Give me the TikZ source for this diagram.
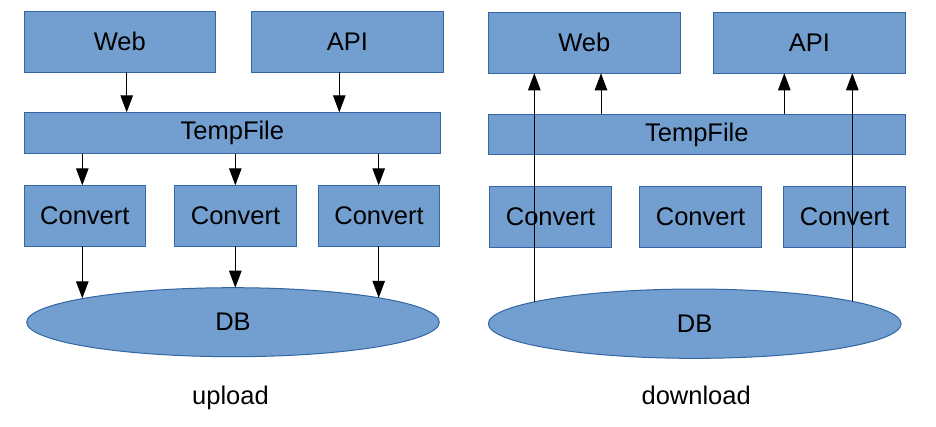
\documentclass[tikz,border=0pt]{standalone}
\usepackage{fontspec}
\setmainfont{Liberation Sans}
\usetikzlibrary{arrows.meta,shapes.geometric}
\definecolor{boxfill}{HTML}{729FCF}
\definecolor{boxline}{HTML}{3465A4}
\tikzset{
  box/.style={draw=boxline, fill=boxfill, line width=1pt, rectangle, inner sep=0pt, outer sep=0pt,
    font=\fontsize{25.5}{30}\selectfont},
  dbshape/.style={draw=boxline, fill=boxfill, line width=1pt, ellipse, inner sep=0pt, outer sep=0pt,
    font=\fontsize{25.5}{30}\selectfont},
  caption/.style={inner sep=0pt, anchor=base, font=\fontsize{25.5}{30}\selectfont},
  arr/.style={-{Triangle[length=17pt,width=12.5pt]}, line width=1pt, black}
}
\begin{document}
\begin{tikzpicture}[x=1pt,y=-1pt]
\useasboundingbox (0,0) rectangle (936,427);
% ---------- upload ----------
\node[box, minimum width=191.7pt, minimum height=61pt] (web1) at (119.85,41.8) {Web};
\node[box, minimum width=192.4pt, minimum height=61pt] (api1) at (347.5,41.8) {API};
\node[box, minimum width=416.7pt, minimum height=41.4pt] (temp1) at (232.35,133) {TempFile};
\node[box, minimum width=121.7pt, minimum height=61pt] (c11) at (84.85,215.8) {Convert};
\node[box, minimum width=122.4pt, minimum height=61pt] (c12) at (235.5,215.8) {Convert};
\node[box, minimum width=121.4pt, minimum height=61pt] (c13) at (379,215.8) {Convert};
\node[dbshape, minimum width=412.6pt, minimum height=69pt] (db1) at (233,322.2) {DB};
\node[caption] (up) at (230.5,404) {upload};
\coordinate (xa) at (126.7,0);
\coordinate (xb) at (339.3,0);
\coordinate (xc) at (82.3,0);
\coordinate (xd) at (235.3,0);
\coordinate (xe) at (378.7,0);
\coordinate (e1) at (82.3,298.3);
\coordinate (e3) at (378.7,297.8);
\draw[arr] (xa |- web1.south) -- (xa |- temp1.north);
\draw[arr] (xb |- api1.south) -- (xb |- temp1.north);
\draw[arr] (xc |- temp1.south) -- (xc |- c11.north);
\draw[arr] (xd |- temp1.south) -- (xd |- c12.north);
\draw[arr] (xe |- temp1.south) -- (xe |- c13.north);
\draw[arr] (xc |- c11.south) -- (e1);
\draw[arr] (xd |- c12.south) -- (xd |- db1.north);
\draw[arr] (xe |- c13.south) -- (e3);
% ---------- download ----------
\node[box, minimum width=192pt, minimum height=61pt] (web2) at (584.3,42.8) {Web};
\node[box, minimum width=192pt, minimum height=61pt] (api2) at (809.3,42.8) {API};
\node[box, minimum width=417pt, minimum height=40.4pt] (temp2) at (696.8,134.5) {TempFile};
\node[box, minimum width=122.4pt, minimum height=61pt] (c21) at (550.5,216.8) {Convert};
\node[box, minimum width=122.4pt, minimum height=61pt] (c22) at (700.5,216.8) {Convert};
\node[box, minimum width=122.4pt, minimum height=61pt] (c23) at (844.5,216.8) {Convert};
\node[dbshape, minimum width=412.7pt, minimum height=69.3pt] (db2) at (694.7,323.7) {DB};
\node[caption] (down) at (696.2,404.5) {download};
\coordinate (xf) at (534.3,0);
\coordinate (xg) at (601,0);
\coordinate (xh) at (784.3,0);
\coordinate (xi) at (852.3,0);
\coordinate (s1) at (534.3,301.8);
\coordinate (s2) at (852.3,301.3);
\draw[arr] (s1) -- (xf |- web2.south);
\draw[arr] (xg |- temp2.north) -- (xg |- web2.south);
\draw[arr] (xh |- temp2.north) -- (xh |- api2.south);
\draw[arr] (s2) -- (xi |- api2.south);
\end{tikzpicture}
\end{document}
